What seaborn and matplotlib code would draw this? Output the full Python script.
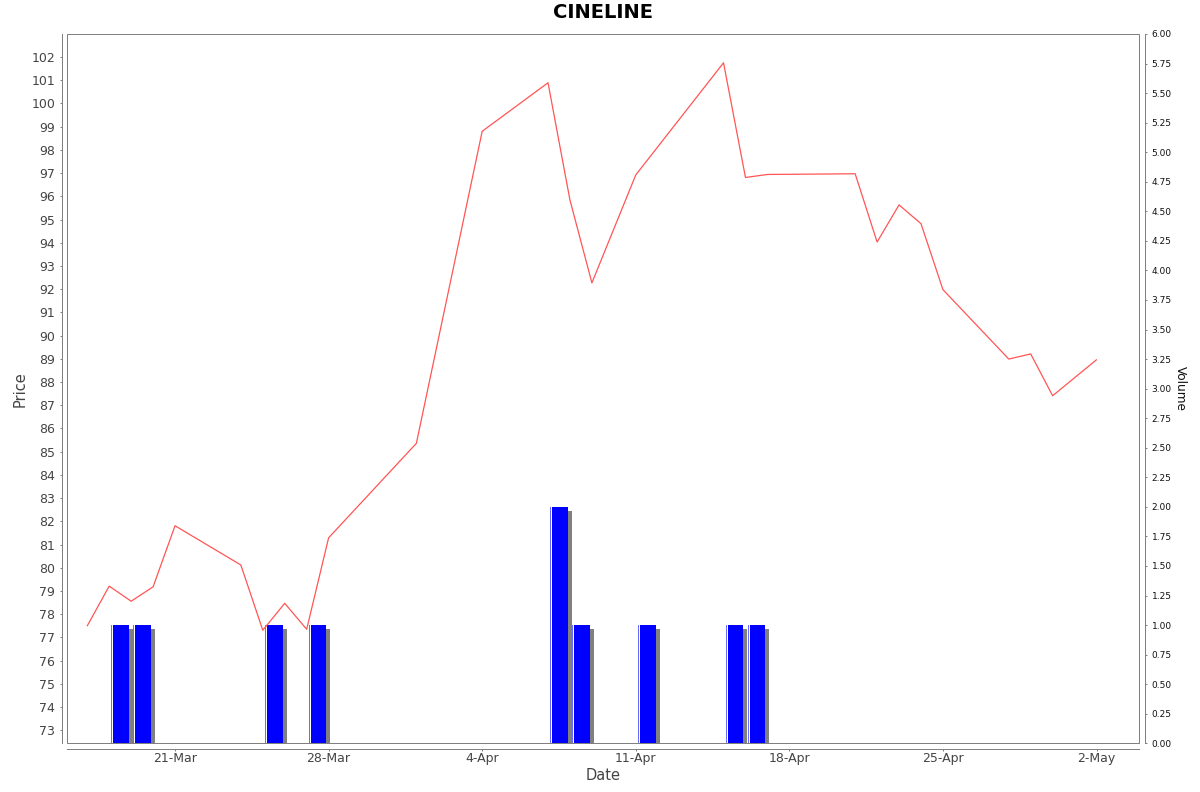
import matplotlib
matplotlib.use('Agg')
import matplotlib.pyplot as plt
import matplotlib.transforms as mtransforms
from matplotlib.patches import Rectangle
from matplotlib.ticker import FormatStrFormatter
import numpy as np
import pandas as pd
import seaborn as sns

# ---------------- data ----------------
title = 'CINELINE'
price_dates = ['2025-03-17', '2025-03-18', '2025-03-19', '2025-03-20', '2025-03-21',
               '2025-03-24', '2025-03-25', '2025-03-26', '2025-03-27', '2025-03-28',
               '2025-04-01', '2025-04-04', '2025-04-07', '2025-04-08', '2025-04-09',
               '2025-04-11', '2025-04-15', '2025-04-16', '2025-04-17', '2025-04-21',
               '2025-04-22', '2025-04-23', '2025-04-24', '2025-04-25', '2025-04-28',
               '2025-04-29', '2025-04-30', '2025-05-02']
prices = [77.50, 79.21, 78.56, 79.18, 81.81,
          80.12, 77.31, 78.47, 77.35, 81.29,
          85.36, 98.80, 100.89, 95.84, 92.27,
          96.92, 101.75, 96.81, 96.94, 96.97,
          94.03, 95.63, 94.82, 91.98, 88.99,
          89.21, 87.41, 88.96]
volume_dates = ['2025-03-18', '2025-03-19', '2025-03-25', '2025-03-27', '2025-04-07',
                '2025-04-08', '2025-04-11', '2025-04-15', '2025-04-16']
volumes = [1, 1, 1, 1, 2, 1, 1, 1, 1]
tick_dates = ['2025-03-21', '2025-03-28', '2025-04-04', '2025-04-11', '2025-04-18',
              '2025-04-25', '2025-05-02']
tick_labels = ['21-Mar', '28-Mar', '4-Apr', '11-Apr', '18-Apr', '25-Apr', '2-May']
price_ticks = list(range(73, 103))
volume_ticks = [i * 0.25 for i in range(25)]

# ---------------- style ----------------
sns.set_theme(style='ticks')
plt.rcParams['font.family'] = ['DejaVu Sans']

W, H = 1200, 792
fig = plt.figure(figsize=(W / 100, H / 100), dpi=100)
L, R, T, B = 67.3, 1139.3, 34.0, 743.3
ax = fig.add_axes([L / W, 1 - B / H, (R - L) / W, (B - T) / H])
ax2 = ax.twinx()
ax.set_zorder(ax2.get_zorder() + 1)
ax.patch.set_visible(False)

gray = '#808080'
px = 0.72  # one pixel in points

# ---------------- volume bars ----------------
vdates = pd.to_datetime(volume_dates) + pd.Timedelta(hours=2.4)
offset = mtransforms.ScaledTranslation(4 / 100, -4 / 100, fig.dpi_scale_trans)
shadow = ax2.bar(vdates, volumes, width=0.8, align='edge', color=gray, linewidth=0, zorder=1)
for p in shadow:
    p.set_transform(ax2.transData + offset)
ax2.bar(vdates, volumes, width=0.8, align='edge', color='#0000ff', linewidth=0, zorder=2)
ax2.bar(vdates, volumes, width=0.045, align='edge', color='#6b6bff', linewidth=0, zorder=3)
ax2.bar(vdates + pd.Timedelta(hours=1.1), volumes, width=0.045, align='edge',
        color='white', linewidth=0, zorder=3)

# ---------------- price line ----------------
df = pd.DataFrame({'date': pd.to_datetime(price_dates), 'price': prices})
sns.lineplot(data=df, x='date', y='price', ax=ax, color='#ff5555', linewidth=0.9)

# ---------------- axes ----------------
base = pd.Timestamp('2025-03-21')
ax.set_xlim(base - pd.Timedelta(days=4.91), base + pd.Timedelta(days=43.95))
ax.set_ylim(72.44, 102.99)
ax2.set_ylim(0, 6)

ax.set_xticks(pd.to_datetime(tick_dates), tick_labels)
ax.set_yticks(price_ticks)
ax2.set_yticks(volume_ticks)
ax2.yaxis.set_major_formatter(FormatStrFormatter('%.2f'))

for s in ['top', 'right']:
    ax.spines[s].set_visible(False)
for s in ['left', 'top', 'bottom']:
    ax2.spines[s].set_visible(False)
for a, s in [(ax, 'left'), (ax, 'bottom'), (ax2, 'right')]:
    a.spines[s].set_position(('outward', 4))
    a.spines[s].set_color(gray)
    a.spines[s].set_linewidth(px)

ax.add_patch(Rectangle((0, 0), 1, 1, transform=ax.transAxes, fill=False,
                       edgecolor=gray, linewidth=px, clip_on=False, zorder=5))

ax.tick_params(axis='y', direction='out', length=1.44, width=px, color=gray,
               labelsize=9, labelcolor='#444444', pad=3.3, left=True)
ax.tick_params(axis='x', direction='out', length=1.44, width=px, color=gray,
               labelsize=9, labelcolor='#444444', pad=1, bottom=True)
ax2.tick_params(axis='y', direction='out', length=1.44, width=px, color=gray,
                labelsize=6.5, labelcolor='#111111', pad=3.4, right=True)

ax.set_xlabel('Date', fontsize=10.5, color='#444444', va='center')
ax.xaxis.set_label_coords(0.5, (743.3 - 775.7) / (743.3 - 34.0) * -1 * -1)
ax.xaxis.set_label_coords(0.5, -(775.7 - 743.3) / (743.3 - 34.0))
ax.set_ylabel('Price', fontsize=10.5, color='#444444', va='center', ha='center')
ax.yaxis.set_label_coords((20.5 - L) / (R - L), 0.5)
ax2.set_ylabel('Volume', fontsize=8.7, color='#111111', rotation=270, va='center', ha='center')
ax2.yaxis.set_label_coords((1180.3 - L) / (R - L), 0.5)

ax.set_title(title, fontsize=14, fontweight='bold', color='black', pad=11.3)

fig.savefig('out.png', dpi=100)
